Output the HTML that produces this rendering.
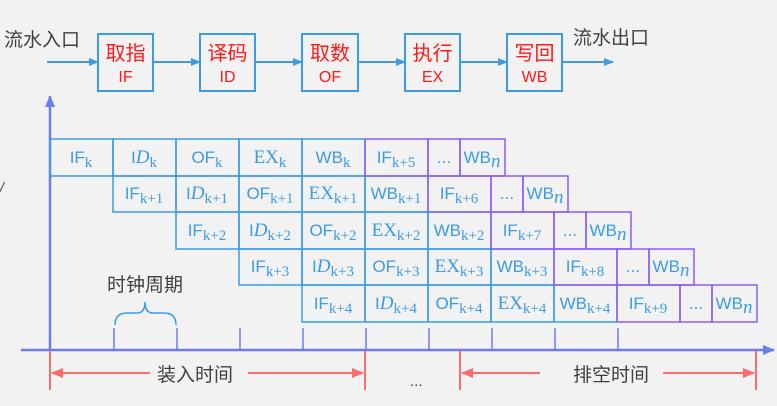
<!DOCTYPE html>
<html><head><meta charset="utf-8"><style>
html,body{margin:0;padding:0;background:#f2f2f2;}
svg{display:block;}
.c{font-family:"Liberation Sans","Noto Sans CJK SC",sans-serif;font-size:17px;fill:#3b9be6;}
.s{font-family:"Liberation Serif","DejaVu Serif",serif;font-size:15px;}
.i{font-family:"Liberation Serif",serif;font-style:italic;font-size:19px;}
.e{font-family:"Liberation Serif",serif;font-style:normal;font-size:19px;}
.r{font-family:"Liberation Sans","Noto Sans CJK SC",sans-serif;fill:#ff1a1a;text-anchor:middle;}
.g{font-family:"Liberation Sans","Noto Sans CJK SC",sans-serif;fill:#404040;font-size:19px;}
</style></head><body>
<svg width="777" height="406" viewBox="0 0 777 406" xmlns="http://www.w3.org/2000/svg">
<defs>
<marker id="ab" markerWidth="10" markerHeight="10" refX="9" refY="5" orient="auto" markerUnits="userSpaceOnUse"><path d="M0,1 L10,5 L0,9z" fill="#3b9be6"/></marker>
<marker id="ap" markerWidth="12" markerHeight="12" refX="11" refY="6" orient="auto" markerUnits="userSpaceOnUse"><path d="M0,1 L12,6 L0,11z" fill="#6b7cf0"/></marker>
<marker id="ar" markerWidth="12" markerHeight="12" refX="11" refY="6" orient="auto" markerUnits="userSpaceOnUse"><path d="M0,1 L12,6 L0,11z" fill="#ff6b6b"/></marker>
</defs>
<text class="g" x="4" y="46">流水入口</text>
<text class="g" x="573" y="44">流水出口</text>
<g stroke="#3b9be6" stroke-width="2" fill="none">
<line x1="47" y1="62" x2="98" y2="62" marker-end="url(#ab)"/>
<line x1="153" y1="62" x2="200" y2="62" marker-end="url(#ab)"/>
<line x1="255" y1="62" x2="302" y2="62" marker-end="url(#ab)"/>
<line x1="358" y1="62" x2="405" y2="62" marker-end="url(#ab)"/>
<line x1="460" y1="62" x2="507" y2="62" marker-end="url(#ab)"/>
<line x1="562" y1="62" x2="613" y2="62" marker-end="url(#ab)"/>
<rect x="98" y="34" width="55" height="57" fill="#f2f2f2"/>
<rect x="200" y="34" width="55" height="57" fill="#f2f2f2"/>
<rect x="302" y="34" width="56" height="57" fill="#f2f2f2"/>
<rect x="405" y="34" width="55" height="57" fill="#f2f2f2"/>
<rect x="507" y="34" width="55" height="57" fill="#f2f2f2"/>
</g>
<g class="r">
<text x="125.5" y="60" font-size="20">取指</text><text x="125.5" y="82" font-size="16">IF</text>
<text x="227.5" y="60" font-size="20">译码</text><text x="227.5" y="82" font-size="16">ID</text>
<text x="330" y="60" font-size="20">取数</text><text x="330" y="82" font-size="16">OF</text>
<text x="432.5" y="60" font-size="20">执行</text><text x="432.5" y="82" font-size="16">EX</text>
<text x="534.5" y="60" font-size="20">写回</text><text x="534.5" y="82" font-size="16">WB</text>
</g>
<text x="0" y="192" font-size="14" fill="#404040" font-style="italic" font-family="Liberation Sans">/</text>
<line x1="50" y1="350" x2="50" y2="96" stroke="#6b7cf0" stroke-width="2.5" marker-end="url(#ap)"/>
<line x1="21" y1="350" x2="774" y2="350" stroke="#6b7cf0" stroke-width="2.5" marker-end="url(#ap)"/>
<g stroke="#6b7cf0" stroke-width="1.5">
<line x1="114" y1="328" x2="114" y2="350"/><line x1="177" y1="328" x2="177" y2="350"/><line x1="240" y1="328" x2="240" y2="350"/><line x1="303" y1="328" x2="303" y2="350"/><line x1="366" y1="328" x2="366" y2="350"/><line x1="429" y1="328" x2="429" y2="350"/><line x1="492" y1="328" x2="492" y2="350"/><line x1="555" y1="328" x2="555" y2="350"/><line x1="618" y1="328" x2="618" y2="350"/>
</g>
<path d="M115,325 Q115,313 127,313 L137,313 Q145,313 145,302 Q145,313 153,313 L164,313 Q176,313 176,325" fill="none" stroke="#3b9be6" stroke-width="1.5"/>
<text class="g" x="107" y="291">时钟周期</text>
<g stroke="#ff6b6b" stroke-width="2">
<line x1="50" y1="351" x2="50" y2="390"/><line x1="365" y1="351" x2="365" y2="390"/><line x1="460" y1="351" x2="460" y2="390"/><line x1="756" y1="351" x2="756" y2="390"/>
<line x1="150" y1="373" x2="52" y2="373" marker-end="url(#ar)"/>
<line x1="248" y1="373" x2="363" y2="373" marker-end="url(#ar)"/>
<line x1="540" y1="373" x2="462" y2="373" marker-end="url(#ar)"/>
<line x1="663" y1="373" x2="754" y2="373" marker-end="url(#ar)"/>
</g>
<text class="g" x="157" y="381">装入时间</text>
<text class="g" x="573" y="381">排空时间</text>
<text x="410" y="386" font-size="15" fill="#404040" font-family="Liberation Sans">...</text>
<g fill="none" stroke="#3b9be6" stroke-width="1.5">
<rect x="50" y="139" width="63" height="37"/><rect x="113" y="139" width="63" height="37"/><rect x="176" y="139" width="63" height="37"/><rect x="239" y="139" width="63" height="37"/><rect x="302" y="139" width="63" height="37"/>
<rect x="113" y="176" width="63" height="36"/><rect x="176" y="176" width="63" height="36"/><rect x="239" y="176" width="63" height="36"/><rect x="302" y="176" width="63" height="36"/><rect x="365" y="176" width="63" height="36"/>
<rect x="176" y="212" width="63" height="37"/><rect x="239" y="212" width="63" height="37"/><rect x="302" y="212" width="63" height="37"/><rect x="365" y="212" width="63" height="37"/><rect x="428" y="212" width="63" height="37"/>
<rect x="239" y="249" width="63" height="36"/><rect x="302" y="249" width="63" height="36"/><rect x="365" y="249" width="63" height="36"/><rect x="428" y="249" width="63" height="36"/><rect x="491" y="249" width="63" height="36"/>
<rect x="302" y="285" width="63" height="37"/><rect x="365" y="285" width="63" height="37"/><rect x="428" y="285" width="63" height="37"/><rect x="491" y="285" width="63" height="37"/><rect x="554" y="285" width="63" height="37"/>
</g>
<g fill="none" stroke="#8b5cf6" stroke-width="1.5">
<rect x="365" y="139" width="63" height="37"/><rect x="428" y="139" width="32" height="37"/><rect x="460" y="139" width="45" height="37"/>
<rect x="428" y="176" width="63" height="36"/><rect x="491" y="176" width="32" height="36"/><rect x="523" y="176" width="45" height="36"/>
<rect x="491" y="212" width="63" height="37"/><rect x="554" y="212" width="32" height="37"/><rect x="586" y="212" width="45" height="37"/>
<rect x="554" y="249" width="63" height="36"/><rect x="617" y="249" width="32" height="36"/><rect x="649" y="249" width="45" height="36"/>
<rect x="617" y="285" width="63" height="37"/><rect x="680" y="285" width="32" height="37"/><rect x="712" y="285" width="45" height="37"/>
</g>
<g class="c" text-anchor="middle">
<text x="81" y="163">IF<tspan class="s" dy="4">k</tspan></text>
<text x="144" y="163">I<tspan class="i">D</tspan><tspan class="s" dy="4">k</tspan></text>
<text x="207" y="163">OF<tspan class="s" dy="4">k</tspan></text>
<text x="270" y="163"><tspan class="e">EX</tspan><tspan class="s" dy="4">k</tspan></text>
<text x="333" y="163">WB<tspan class="s" dy="4">k</tspan></text>
<text x="396" y="163">IF<tspan class="s" dy="4">k+5</tspan></text>
<text x="444" y="163">...</text>
<text x="482" y="163">WB<tspan class="i" font-size="16" dy="4">n</tspan></text>
<text x="144" y="199">IF<tspan class="s" dy="4">k+1</tspan></text>
<text x="207" y="199">I<tspan class="i">D</tspan><tspan class="s" dy="4">k+1</tspan></text>
<text x="270" y="199">OF<tspan class="s" dy="4">k+1</tspan></text>
<text x="333" y="199"><tspan class="e">EX</tspan><tspan class="s" dy="4">k+1</tspan></text>
<text x="396" y="199">WB<tspan class="s" dy="4">k+1</tspan></text>
<text x="459" y="199">IF<tspan class="s" dy="4">k+6</tspan></text>
<text x="507" y="199">...</text>
<text x="545" y="199">WB<tspan class="i" font-size="16" dy="4">n</tspan></text>
<text x="207" y="236">IF<tspan class="s" dy="4">k+2</tspan></text>
<text x="270" y="236">I<tspan class="i">D</tspan><tspan class="s" dy="4">k+2</tspan></text>
<text x="333" y="236">OF<tspan class="s" dy="4">k+2</tspan></text>
<text x="396" y="236"><tspan class="e">EX</tspan><tspan class="s" dy="4">k+2</tspan></text>
<text x="459" y="236">WB<tspan class="s" dy="4">k+2</tspan></text>
<text x="522" y="236">IF<tspan class="s" dy="4">k+7</tspan></text>
<text x="570" y="236">...</text>
<text x="608" y="236">WB<tspan class="i" font-size="16" dy="4">n</tspan></text>
<text x="270" y="272">IF<tspan class="s" dy="4">k+3</tspan></text>
<text x="333" y="272">I<tspan class="i">D</tspan><tspan class="s" dy="4">k+3</tspan></text>
<text x="396" y="272">OF<tspan class="s" dy="4">k+3</tspan></text>
<text x="459" y="272"><tspan class="e">EX</tspan><tspan class="s" dy="4">k+3</tspan></text>
<text x="522" y="272">WB<tspan class="s" dy="4">k+3</tspan></text>
<text x="585" y="272">IF<tspan class="s" dy="4">k+8</tspan></text>
<text x="633" y="272">...</text>
<text x="671" y="272">WB<tspan class="i" font-size="16" dy="4">n</tspan></text>
<text x="333" y="309">IF<tspan class="s" dy="4">k+4</tspan></text>
<text x="396" y="309">I<tspan class="i">D</tspan><tspan class="s" dy="4">k+4</tspan></text>
<text x="459" y="309">OF<tspan class="s" dy="4">k+4</tspan></text>
<text x="522" y="309"><tspan class="e">EX</tspan><tspan class="s" dy="4">k+4</tspan></text>
<text x="585" y="309">WB<tspan class="s" dy="4">k+4</tspan></text>
<text x="648" y="309">IF<tspan class="s" dy="4">k+9</tspan></text>
<text x="696" y="309">...</text>
<text x="734" y="309">WB<tspan class="i" font-size="16" dy="4">n</tspan></text>
</g>
</svg>
</body></html>
